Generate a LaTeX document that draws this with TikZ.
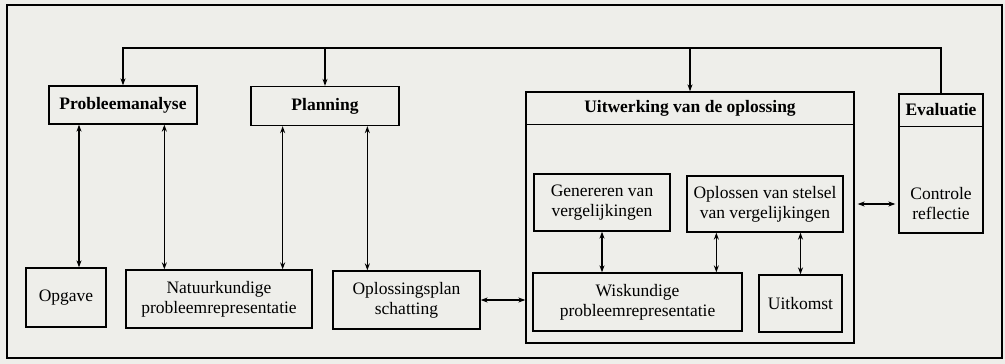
\documentclass[tikz,border=0pt]{standalone}
\usepackage{fontspec}
\setmainfont{Liberation Serif}
\usetikzlibrary{positioning,calc,arrows.meta}
\definecolor{papier}{RGB}{238,238,234}

\begin{document}
\begin{tikzpicture}[
      x=1pt, y=-1pt,
      box/.style={rectangle, draw=black, line width=1.3pt, align=center, inner sep=0pt, font=\fontsize{17.5}{20}\selectfont},
      titel/.style={box, font=\fontsize{17.5}{20}\selectfont\bfseries},
      arrow/.style={>={Stealth[length=7pt,width=5pt]}, <->, line width=1.3pt},
      pijl/.style={>={Stealth[length=7pt,width=5pt]}, ->, line width=1.3pt},
    ]
    \fill [papier] (0,0) rectangle (1005,364);
    \useasboundingbox (0,0) rectangle (1005,364);
    \draw [line width=1.8pt] (7,5) rectangle (1002,358);
    % Fasen (bovenste rij)
    \node [titel, minimum width=148pt, minimum height=38pt] (pa) at (123,105) {Probleemanalyse};
    \node [titel, minimum width=148pt, minimum height=39pt] (plan) at (325,106) {Planning};
    \node [box, minimum width=328pt, minimum height=251pt] (uit) at (690,217.5) {};
    \node [titel, draw=none, minimum width=328pt, minimum height=32pt, anchor=north] (uittitel) at (uit.north) {Uitwerking van de oplossing};
    \draw [line width=1.3pt] (uittitel.south west) -- (uittitel.south east);
    \node [box, minimum width=84pt, minimum height=139pt] (eval) at (941,163.5) {};
    \node [titel, draw=none, minimum width=84pt, minimum height=32pt, anchor=north] (evaltitel) at (eval.north) {Evaluatie};
    \draw [line width=1.3pt] (evaltitel.south west) -- (evaltitel.south east);
    \node [box, draw=none] (ctrl) at (941,204) {Controle\\reflectie};
    % Terugkoppeling
    \coordinate (bovenlijn) at (0,48);
    \draw [pijl] (eval.north) |- (pa.north |- bovenlijn) -- (pa.north);
    \draw [pijl] (plan.north |- bovenlijn) -- (plan.north);
    \draw [pijl] (uit.north |- bovenlijn) -- (uit.north);
    % Onderste rij
    \node [box, minimum width=80pt, minimum height=59pt] (opg) at (66,297.5) {Opgave};
    \node [box, minimum width=186pt, minimum height=58pt] (nat) at (219,299) {Natuurkundige\\probleemrepresentatie};
    \node [box, minimum width=147pt, minimum height=58pt] (opl) at (406.5,300) {Oplossingsplan\\schatting};
    \draw [arrow] ([xshift=13pt]opg.north) -- ([xshift=13pt]opg.north |- pa.south);
    \draw [arrow] ([xshift=39pt]nat.north west) -- ([xshift=39pt]nat.north west |- pa.south);
    \draw [arrow] ([xshift=-30pt]nat.north east) -- ([xshift=-30pt]nat.north east |- plan.south);
    \draw [arrow] ([xshift=35pt]opl.north west) -- ([xshift=35pt]opl.north west |- plan.south);
    \draw [arrow] (opl.east) -- (opl.east -| uit.west);
    % Binnen de uitwerking
    \node [box, minimum width=136pt, minimum height=57pt] (gen) at (602,202.5) {Genereren van\\vergelijkingen};
    \node [box, minimum width=156pt, minimum height=56pt] (ops) at (765,204) {Oplossen van stelsel\\van vergelijkingen};
    \node [box, minimum width=209pt, minimum height=58pt] (wis) at (637.5,302) {Wiskundige\\probleemrepresentatie};
    \node [box, minimum width=83pt, minimum height=57pt] (uitk) at (800.5,303.5) {Uitkomst};
    \draw [arrow] (gen.south) -- (gen.south |- wis.north);
    \draw [arrow] ([xshift=30pt]ops.south west) -- ([xshift=30pt]ops.south west |- wis.north);
    \draw [arrow] (uitk.north) -- (uitk.north |- ops.south);
    \draw [arrow, shorten >=3pt, shorten <=3pt] (uit.east |- ctrl) -- (eval.west |- ctrl);
  \end{tikzpicture}
\end{document}
